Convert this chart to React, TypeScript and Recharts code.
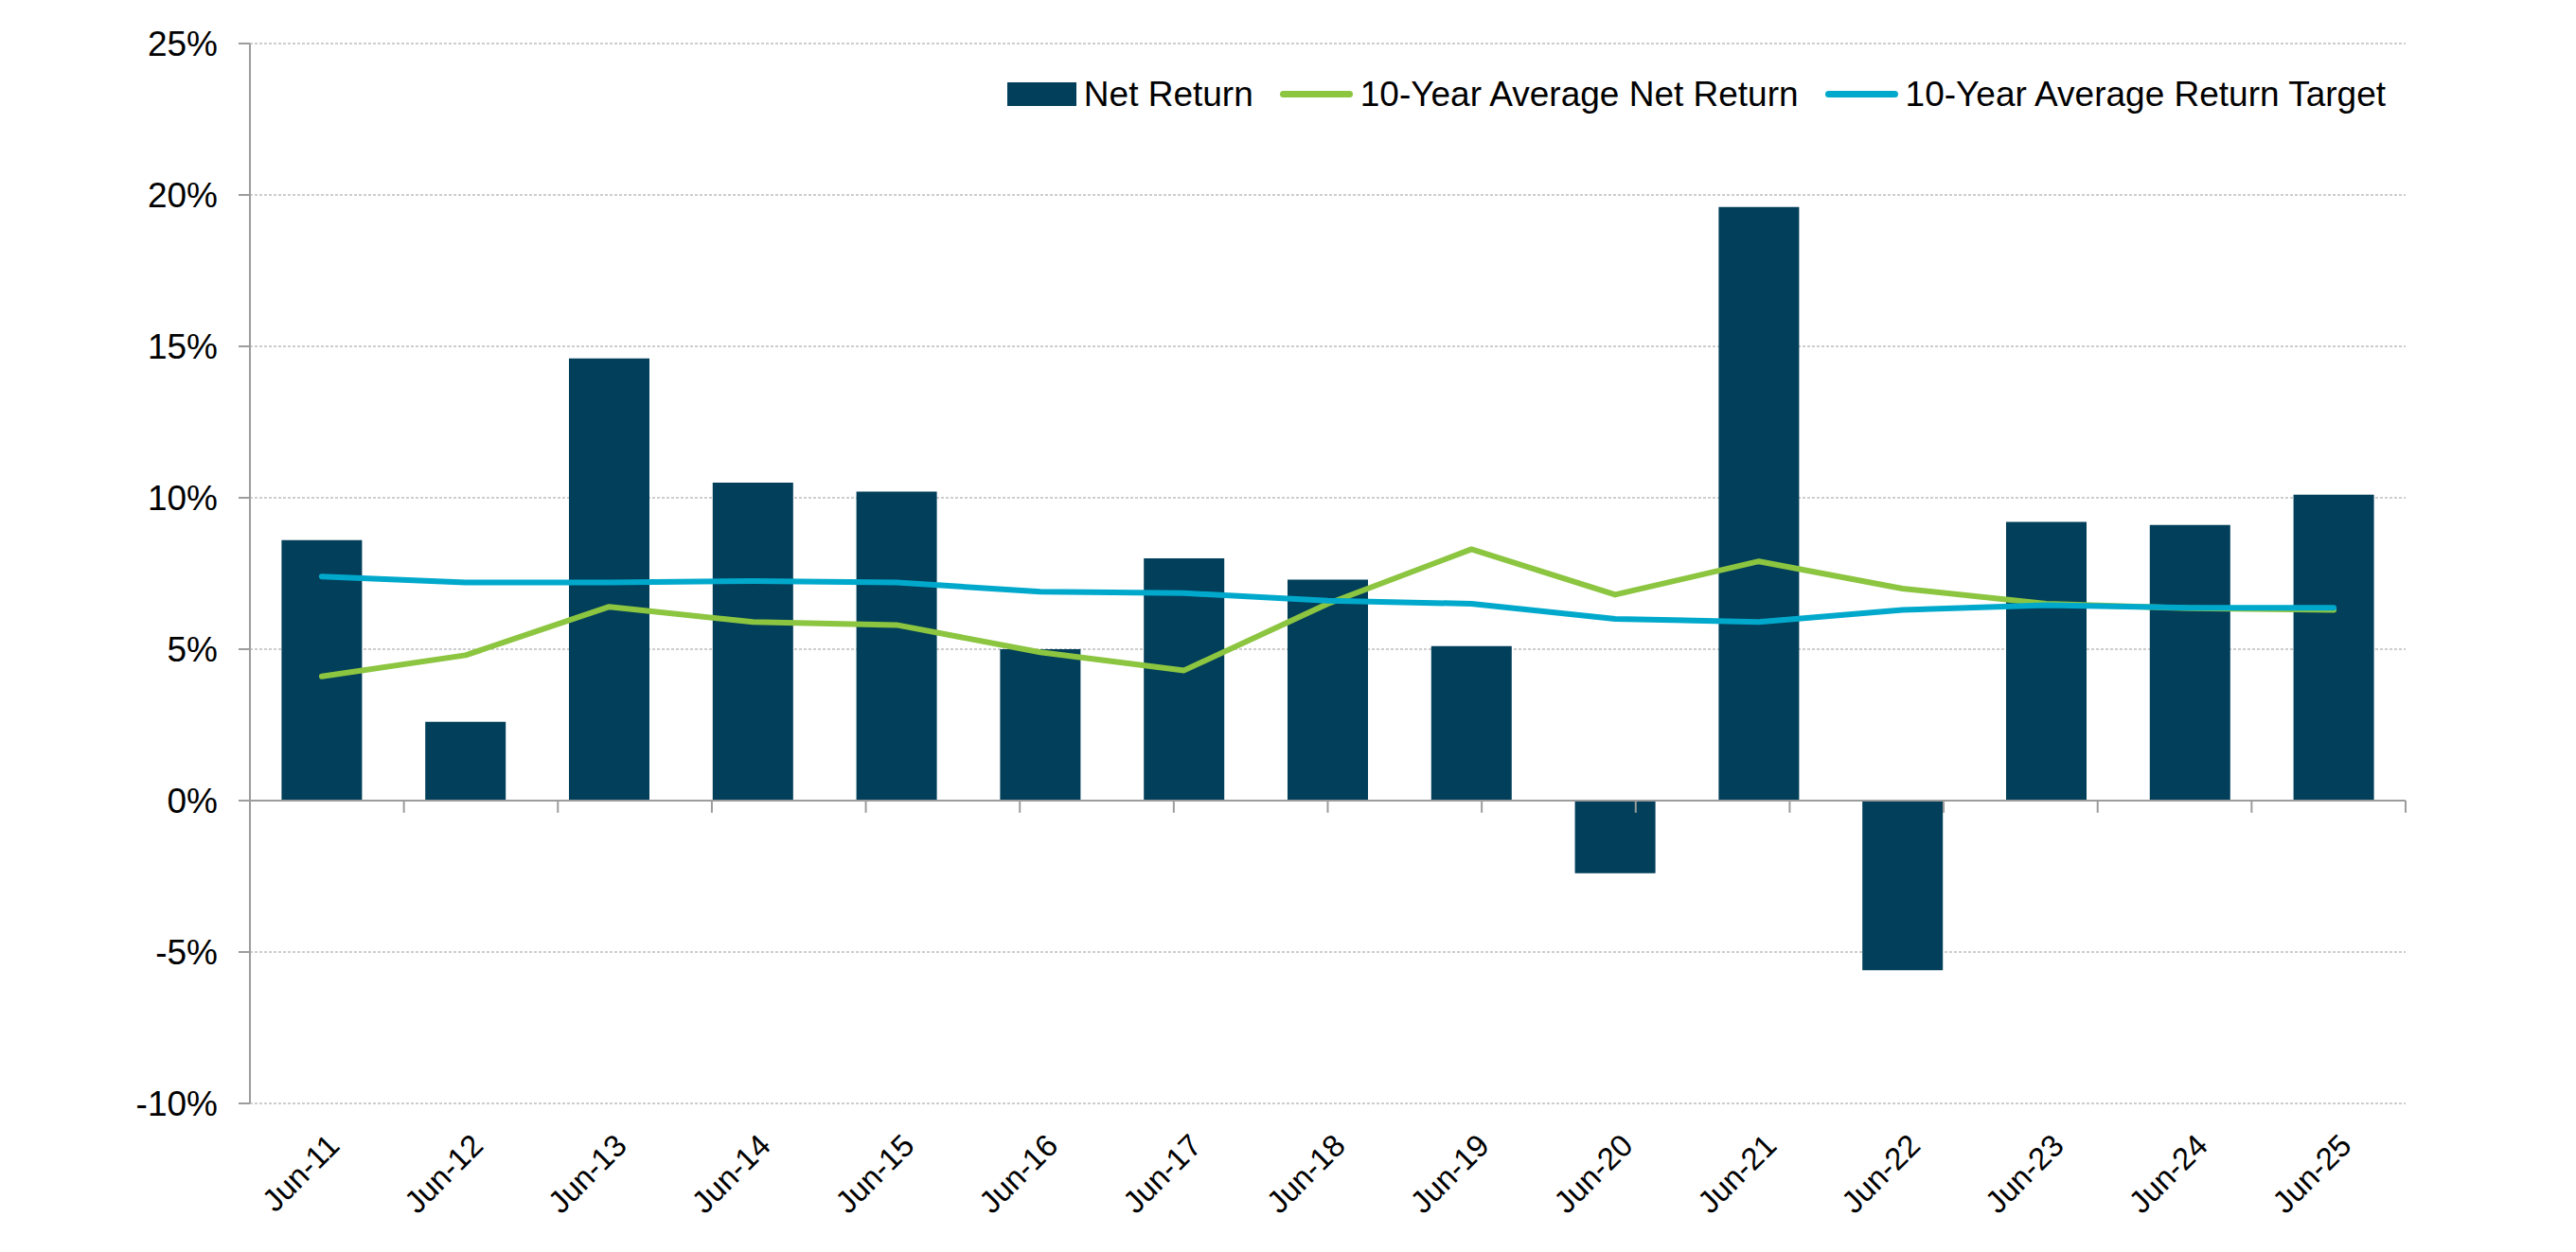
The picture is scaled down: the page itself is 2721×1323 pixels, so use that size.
import { Bar, CartesianGrid, ComposedChart, Legend, Line, ReferenceLine, XAxis, YAxis } from 'recharts'

const categories = ['Jun-11', 'Jun-12', 'Jun-13', 'Jun-14', 'Jun-15', 'Jun-16', 'Jun-17', 'Jun-18', 'Jun-19', 'Jun-20', 'Jun-21', 'Jun-22', 'Jun-23', 'Jun-24', 'Jun-25']
const netReturn = [8.6, 2.6, 14.6, 10.5, 10.2, 5.0, 8.0, 7.3, 5.1, -2.4, 19.6, -5.6, 9.2, 9.1, 10.1]
const avgNetReturn = [4.1, 4.8, 6.4, 5.9, 5.8, 4.9, 4.3, 6.5, 8.3, 6.8, 7.9, 7.0, 6.5, 6.35, 6.3]
const avgReturnTarget = [7.4, 7.2, 7.2, 7.25, 7.2, 6.9, 6.85, 6.6, 6.5, 6.0, 5.9, 6.3, 6.45, 6.37, 6.37]
const yTicks = [-10, -5, 0, 5, 10, 15, 20, 25]
const seriesOrder = ['net', 'avg', 'target']

const data = categories.map((label, i) => ({
  label,
  net: netReturn[i],
  avg: avgNetReturn[i],
  target: avgReturnTarget[i],
}))
// category boundaries for the small tick marks hanging off the zero line
const boundaries = categories.map((_, i) => i + 1)

const NAVY = '#023f5a'
const GREEN = '#8cc540'
const BLUE = '#00a9cc'
const GREY = '#9c9c9c'
const FONT = '"Liberation Sans", Arial, sans-serif'

function XTick({ x, y, payload }: any) {
  return (
    <text
      x={x + 4}
      y={y}
      dy="0.71em"
      textAnchor="end"
      transform={`rotate(-45, ${x + 4}, ${y})`}
      fontSize={33}
      fontFamily={FONT}
      fill="#000"
    >
      {payload.value}
    </text>
  )
}

function LegendContent({ payload }: any) {
  const items = [...(payload || [])].sort(
    (a: any, b: any) => seriesOrder.indexOf(a.dataKey) - seriesOrder.indexOf(b.dataKey),
  )
  return (
    <div style={{ display: 'flex', alignItems: 'center', whiteSpace: 'nowrap', fontFamily: FONT, fontSize: 37, lineHeight: '37px', color: '#000' }}>
      {items.map((entry: any, i: number) => (
        <div key={entry.value} style={{ display: 'flex', alignItems: 'center', marginLeft: i === 0 ? 0 : 28 }}>
          {entry.type === 'rect' ? (
            <div style={{ width: 73, height: 25, background: entry.color }} />
          ) : (
            <div style={{ width: 77, height: 7, borderRadius: 4, background: entry.color }} />
          )}
          <span style={{ marginLeft: 8 }}>{entry.value}</span>
        </div>
      ))}
    </div>
  )
}

export default function App() {
  return (
    <div style={{ position: 'absolute', left: 0, top: 0, width: 2721, height: 1323, background: '#fff' }}>
      <ComposedChart width={2721} height={1323} data={data} margin={{ top: 46, right: 180, bottom: 0, left: 0 }} barCategoryGap="22%">
        <CartesianGrid vertical={false} stroke={GREY} strokeDasharray="3 2" />
        <XAxis
          dataKey="label"
          interval={0}
          height={157}
          axisLine={false}
          tickLine={false}
          tickSize={0}
          tickMargin={30}
          tick={<XTick />}
        />
        <XAxis xAxisId="edge" type="number" domain={[0, categories.length]} allowDataOverflow hide />
        <YAxis
          width={264}
          domain={[-10, 25]}
          ticks={yTicks}
          allowDataOverflow
          tickFormatter={(v: number) => `${v}%`}
          axisLine={{ stroke: GREY, strokeWidth: 2 }}
          tickLine={{ stroke: GREY, strokeWidth: 2 }}
          tickSize={12}
          tickMargin={22}
          tick={{ fontSize: 37, fontFamily: FONT, fill: '#000' }}
        />
        <Legend
          layout="horizontal"
          verticalAlign="middle"
          align="center"
          content={<LegendContent />}
          wrapperStyle={{ top: 81, right: 201, left: 'auto', width: 'auto', height: 'auto' }}
        />
        <Bar dataKey="net" name="Net Return" fill={NAVY} legendType="rect" isAnimationActive={false} />
        <ReferenceLine y={0} stroke={GREY} strokeWidth={2} />
        {boundaries.map((b) => (
          <ReferenceLine
            key={b}
            xAxisId="edge"
            segment={[{ x: b, y: 0 }, { x: b, y: -0.4 }]}
            stroke={GREY}
            strokeWidth={2}
          />
        ))}
        <Line
          type="linear"
          dataKey="avg"
          name="10-Year Average Net Return"
          stroke={GREEN}
          strokeWidth={6}
          strokeLinecap="round"
          strokeLinejoin="round"
          dot={false}
          legendType="line"
          isAnimationActive={false}
        />
        <Line
          type="linear"
          dataKey="target"
          name="10-Year Average Return Target"
          stroke={BLUE}
          strokeWidth={6}
          strokeLinecap="round"
          strokeLinejoin="round"
          dot={false}
          legendType="line"
          isAnimationActive={false}
        />
      </ComposedChart>
    </div>
  )
}
